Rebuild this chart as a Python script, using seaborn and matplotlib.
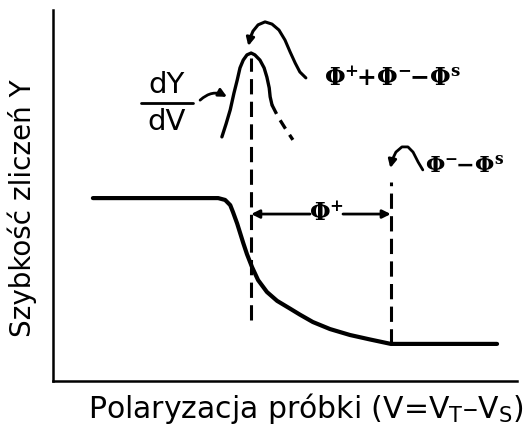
import matplotlib
matplotlib.use("Agg")
import matplotlib.pyplot as plt
import seaborn as sns

sns.set_theme(style="white")
plt.rcParams["font.family"] = ["DejaVu Sans"]
plt.rcParams["mathtext.fontset"] = "dejavuserif"
plt.rcParams["text.color"] = "black"
plt.rcParams["axes.labelcolor"] = "black"

# Count rate Y versus sample bias V (arbitrary units)
bias = [0.86, 3.56, 3.71, 3.82, 3.88, 3.97, 4.03, 4.10, 4.18, 4.29, 4.42,
        4.61, 4.83, 5.11, 5.32, 5.60, 5.97, 6.40, 6.83, 7.28, 9.57]
rate = [4.93, 4.93, 4.88, 4.74, 4.55, 4.24, 4.00, 3.72, 3.42, 3.07, 2.72,
        2.40, 2.16, 1.95, 1.79, 1.59, 1.40, 1.24, 1.12, 1.00, 1.00]

# Derivative dY/dV: solid part and dashed tail
deriv_v = [3.64, 3.73, 3.82, 3.90, 3.97, 4.03, 4.10, 4.18, 4.27, 4.35, 4.46,
           4.55, 4.61, 4.66, 4.68, 4.72]
deriv_y = [6.58, 6.93, 7.31, 7.76, 8.11, 8.44, 8.65, 8.79, 8.84, 8.79, 8.65,
           8.44, 8.19, 7.90, 7.66, 7.44]
tail_v = [4.72, 4.85, 5.00, 5.17]
tail_y = [7.44, 7.12, 6.82, 6.50]

# Characteristic bias values
v_peak = 4.27      # Φ⁺ + Φ⁻ − Φˢ
v_end = 7.28       # Φ⁻ − Φˢ
peak_line = (1.64, 8.71)
end_line = (1.00, 5.36)
span_y = 4.50

W, H = 528, 425
fig = plt.figure(figsize=(W / 100, H / 100), dpi=100)
ax = fig.add_axes([53 / W, 44 / H, 464 / W, 371 / H])
ax.set_xlim(0, 10)
ax.set_ylim(0, 10)

sns.lineplot(x=bias, y=rate, ax=ax, color="black", lw=3.0, sort=False,
             estimator=None, solid_capstyle="round", solid_joinstyle="round")
sns.lineplot(x=deriv_v, y=deriv_y, ax=ax, color="black", lw=2.4, sort=False,
             estimator=None, solid_capstyle="round", solid_joinstyle="round")
ax.plot(tail_v, tail_y, color="black", lw=2.4, linestyle=(0, (3, 2.2)))

dash = (0, (5.0, 2.4))
ax.plot([v_peak, v_peak], peak_line, color="black", lw=2.2, linestyle=dash)
ax.plot([v_end, v_end], end_line, color="black", lw=2.2, linestyle=dash)

arrow = dict(arrowstyle="-|>", color="black", lw=2.0, mutation_scale=12,
             shrinkA=0, shrinkB=0)

# Φ⁺ span between the two dashed lines
ax.annotate("", xy=(v_peak, span_y), xytext=(5.54, span_y), arrowprops=arrow)
ax.annotate("", xy=(v_end, span_y), xytext=(6.25, span_y), arrowprops=arrow)
ax.text(5.90, span_y, r"$\mathbf{\Phi^{+}}$", fontsize=17, ha="center",
        va="center")

# pointer from the Φ⁺+Φ⁻−Φˢ label down to the peak
hook_v = [5.45, 5.32, 5.22, 5.11, 5.00, 4.87, 4.72, 4.57, 4.42, 4.31, 4.25]
hook_y = [8.17, 8.33, 8.57, 8.87, 9.19, 9.46, 9.62, 9.68, 9.60, 9.43, 9.25]
ax.plot(hook_v, hook_y, color="black", lw=2.2, solid_capstyle="round")
ax.annotate("", xy=(4.21, 9.03), xytext=(4.25, 9.25), arrowprops=arrow)
ax.text(5.85, 8.15, r"$\mathbf{\Phi^{+}\!\!+\!\Phi^{-}\!\!-\!\Phi^{s}}$",
        fontsize=17, ha="left", va="center")

# pointer from the Φ⁻−Φˢ label to the second dashed line
hook2_v = [7.97, 7.87, 7.76, 7.65, 7.52, 7.39, 7.31]
hook2_y = [5.69, 5.90, 6.17, 6.31, 6.31, 6.17, 5.96]
ax.plot(hook2_v, hook2_y, color="black", lw=2.0, solid_capstyle="round")
ax.annotate("", xy=(7.27, 5.74), xytext=(7.31, 5.96), arrowprops=arrow)
ax.text(8.02, 5.80, r"$\mathbf{\Phi^{-}\!\!-\!\Phi^{s}}$", fontsize=16,
        ha="left", va="center")

# dY/dV label with its pointer
ax.text(2.44, 7.98, "dY", fontsize=21, ha="center", va="center")
ax.plot([1.90, 3.02], [7.49, 7.49], color="black", lw=2.0)
ax.text(2.44, 6.98, "dV", fontsize=21, ha="center", va="center")
ax.annotate("", xy=(3.75, 7.66), xytext=(3.17, 7.57),
            arrowprops=dict(arrow, connectionstyle="arc3,rad=-0.35"))

ax.set_xticks([])
ax.set_yticks([])
sns.despine(ax=ax)
for side in ("left", "bottom"):
    ax.spines[side].set_color("black")
    ax.spines[side].set_linewidth(1.8)

ax.set_xlabel(r"Polaryzacja próbki (V=V$_\mathregular{T}$–V$_\mathregular{S}$)",
              fontsize=21.5)
ax.xaxis.label.set_va("baseline")
ax.xaxis.set_label_coords(0.545, -0.10)
ax.set_ylabel("Szybkość zliczeń Y", fontsize=20)
ax.yaxis.label.set_va("center")
ax.yaxis.set_label_coords(-0.066, 0.466)

fig.savefig("out.png", dpi=100, facecolor="white")
